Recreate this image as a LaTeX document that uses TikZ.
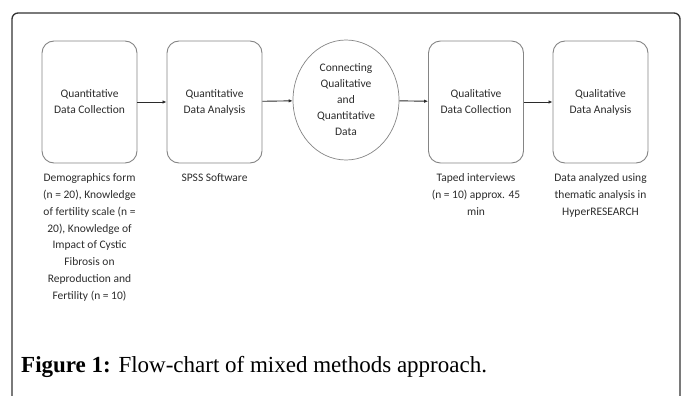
\documentclass[tikz,border=0pt]{standalone}
\usepackage{fontspec}
\setmainfont{Liberation Serif}
\newfontfamily\chartfont{Carlito}
\usepackage{xcolor}
\usetikzlibrary{arrows.meta,positioning,shapes.geometric}
\definecolor{ink}{HTML}{2C2C2C}
\definecolor{frameline}{HTML}{333333}
\definecolor{edge}{HTML}{858585}
\definecolor{arrowink}{HTML}{2B2B2B}
\tikzset{
  stagebox/.style={rounded corners=12pt,draw=edge,fill=white,line width=0.9pt,
                   minimum width=95pt,minimum height=122pt,inner sep=2pt,
                   align=center,text=ink,font=\chartfont\fontsize{11.5}{16}\selectfont},
  linkbox/.style={stagebox,ellipse,rounded corners=0pt,minimum width=106pt,
                  minimum height=120pt,line width=0.7pt},
  notetext/.style={inner sep=0pt,align=center,text=ink,
                   font=\chartfont\fontsize{11.5}{16.8}\selectfont},
  dataflow/.style={-{Latex[length=4pt,width=3.5pt]},line width=0.9pt,draw=arrowink}
}
\begin{document}
\begin{tikzpicture}[x=1pt,y=-1pt]
  \useasboundingbox (0,0) rectangle (683,396);
  % outer frame, open at the bottom
  \draw[frameline,line width=1.3pt,rounded corners=6pt]
    (12,400) -- (12,13) -- (680,13) -- (680,400);
  % stages
  \node[stagebox] (qncol) at (89.5,102) {Quantitative\\Data Collection};
  \node[stagebox] (qnana) at (214.5,102) {Quantitative\\Data Analysis};
  \node[linkbox]  (link)  at (346,100) {Connecting\\Qualitative\\and\\Quantitative\\Data};
  \node[stagebox] (qlcol) at (476,102) {Qualitative\\Data Collection};
  \node[stagebox] (qlana) at (600.5,102) {Qualitative\\Data Analysis};
  \foreach \a/\b in {qncol/qnana,qnana/link,link/qlcol,qlcol/qlana}{
    \draw[dataflow] (\a) -- (\b);}
  % notes under the stages
  \node[notetext,below=10pt of qncol] (qncolnote) {Demographics form\\(n = 20), Knowledge\\of fertility scale (n =\\20), Knowledge of\\Impact of Cystic\\Fibrosis on\\Reproduction and\\Fertility (n = 10)};
  \node[notetext,below=10pt of qnana] (qnananote) {SPSS Software};
  \node[notetext,below=10pt of qlcol] (qlcolnote) {Taped interviews\\(n = 10) approx. 45\\min};
  \node[notetext,below=10pt of qlana] (qlananote) {Data analyzed using\\thematic analysis in\\HyperRESEARCH};
  \node[anchor=west,inner sep=0pt,font=\fontsize{23}{27}\selectfont] (caption) at (21,367)
    {\textbf{Figure 1:} Flow-chart of mixed methods approach.};
\end{tikzpicture}
\end{document}
